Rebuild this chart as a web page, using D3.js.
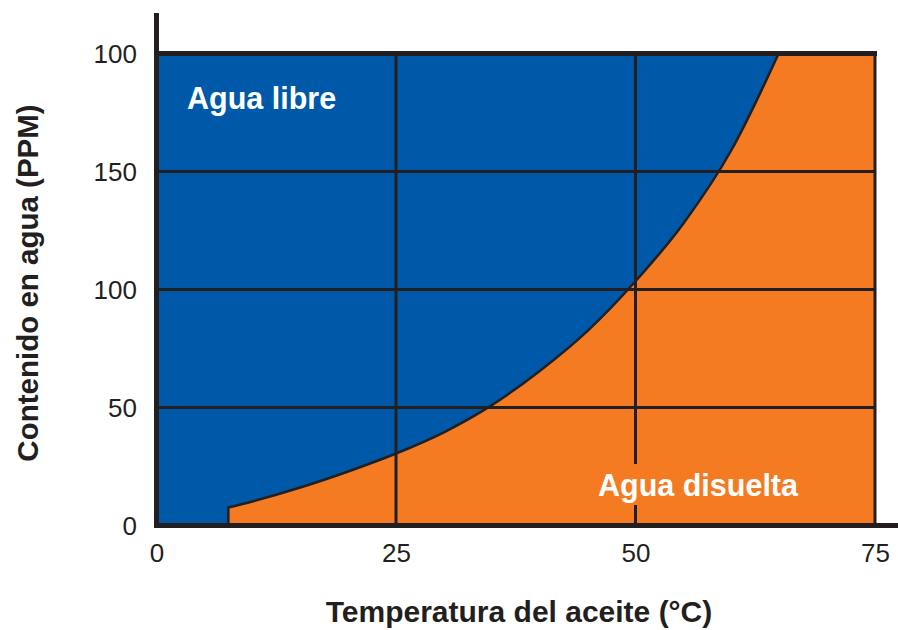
<!DOCTYPE html>
<html>
<head>
<meta charset="utf-8">
<script src="https://d3js.org/d3.v7.min.js"></script>
<style>
  body { margin: 0; background: #fff; }
  text { font-family: "Liberation Sans", Arial, Helvetica, sans-serif; fill: #231f20; }
</style>
</head>
<body>
<svg id="chart" width="898" height="630"></svg>
<script>
// curve: temperature (°C) -> water content (PPM)
var temps = [7.5, 10, 15, 20, 25, 30, 35, 40, 45, 50, 55, 60, 65];
var ppm   = [7.6, 10.2, 16.1, 22.9, 30.5, 39.5, 51, 65.5, 82.5, 103.5, 128, 159, 200.5];

var xTicks = [0, 25, 50, 75];
var yTicks = [0, 50, 100, 150, 200];
var yTickLabels = ["0", "50", "100", "150", "100"];

var xTitle = "Temperatura del aceite (°C)";
var yTitle = "Contenido en agua (PPM)";
var freeLabel = "Agua libre";
var dissolvedLabel = "Agua disuelta";

var blue = "#0059a8", orange = "#f47b21", ink = "#231f20";

var svg = d3.select("#chart");

var x = d3.scaleLinear().domain([0, 75]).range([156.5, 875]);
var y = d3.scaleLinear().domain([0, 200]).range([525.5, 53.5]);

var pts = temps.map(function(t, i) { return [t, ppm[i]]; });

svg.append("clipPath").attr("id", "plotclip")
  .append("rect")
  .attr("x", x(0)).attr("y", y(200))
  .attr("width", x(75) - x(0)).attr("height", y(0) - y(200));

var plot = svg.append("g").attr("clip-path", "url(#plotclip)");

// free water background
plot.append("rect")
  .attr("x", x(0)).attr("y", y(200))
  .attr("width", x(75) - x(0)).attr("height", y(0) - y(200))
  .attr("fill", blue);

// dissolved water region under the curve
var line = d3.line()
  .x(function(d) { return x(d[0]); })
  .y(function(d) { return y(d[1]); })
  .curve(d3.curveMonotoneX);

var curvePath = line(pts);
var first = pts[0];
plot.append("path")
  .attr("d", "M" + x(first[0]) + "," + y(0) + "L" + curvePath.slice(1) +
        "L" + x(75) + "," + y(pts[pts.length - 1][1]) +
        "L" + x(75) + "," + y(0) + "Z")
  .attr("fill", orange);

// grid
plot.selectAll("line.gx").data([25, 50]).enter().append("line")
  .attr("x1", function(d) { return x(d); }).attr("x2", function(d) { return x(d); })
  .attr("y1", y(0)).attr("y2", y(200))
  .attr("stroke", ink).attr("stroke-width", 3);
plot.selectAll("line.gy").data([50, 100, 150]).enter().append("line")
  .attr("x1", x(0)).attr("x2", x(75))
  .attr("y1", function(d) { return y(d); }).attr("y2", function(d) { return y(d); })
  .attr("stroke", ink).attr("stroke-width", 3);

// boundary curve with its vertical start
plot.append("path")
  .attr("d", "M" + x(first[0]) + "," + y(0) + "L" + curvePath.slice(1))
  .attr("fill", "none").attr("stroke", ink).attr("stroke-width", 2.5);

// frame
svg.append("line").attr("x1", x(0)).attr("x2", x(75) + 2).attr("y1", y(200)).attr("y2", y(200))
  .attr("stroke", ink).attr("stroke-width", 5);
svg.append("line").attr("x1", x(75)).attr("x2", x(75)).attr("y1", y(200)).attr("y2", y(0))
  .attr("stroke", ink).attr("stroke-width", 3);
svg.append("line").attr("x1", x(0)).attr("x2", x(0)).attr("y1", 13).attr("y2", y(0) + 2.5)
  .attr("stroke", ink).attr("stroke-width", 5);
svg.append("line").attr("x1", x(0) - 2.5).attr("x2", 898).attr("y1", y(0)).attr("y2", y(0))
  .attr("stroke", ink).attr("stroke-width", 5);

// axes (labels only)
var xAxis = d3.axisBottom(x).tickValues(xTicks).tickSize(0).tickPadding(0)
  .tickFormat(d3.format("d"));
var gx = svg.append("g").call(xAxis);
gx.select(".domain").remove();
gx.selectAll("text").attr("y", 562).attr("dy", null)
  .style("font-size", "26px").style("font-family", "Liberation Sans, Arial, sans-serif")
  .attr("fill", ink);

var yAxis = d3.axisLeft(y).tickValues(yTicks).tickSize(0).tickPadding(0)
  .tickFormat(function(d, i) { return yTickLabels[i]; });
var gy = svg.append("g").attr("transform", "translate(137,0)").call(yAxis);
gy.select(".domain").remove();
gy.selectAll("text").attr("dy", "0.36em")
  .style("font-size", "26px").style("font-family", "Liberation Sans, Arial, sans-serif")
  .attr("fill", ink);

// region labels
svg.append("text").attr("x", 187).attr("y", 109)
  .style("font-size", "30.5px").style("font-weight", "bold").style("fill", "#fff")
  .text(freeLabel);

var dl = svg.append("text").attr("x", 598).attr("y", 496)
  .style("font-size", "30.5px").style("font-weight", "bold").style("fill", "#fff")
  .text(dissolvedLabel);
var bb = dl.node().getBBox();
svg.insert("rect", function() { return dl.node(); })
  .attr("x", bb.x - 4).attr("y", bb.y - 4)
  .attr("width", bb.width + 8).attr("height", bb.height + 6)
  .attr("fill", orange);

// axis titles
svg.append("text").attr("x", 519).attr("y", 622).attr("text-anchor", "middle")
  .style("font-size", "30px").style("font-weight", "bold")
  .text(xTitle);
svg.append("text").attr("transform", "translate(38,283) rotate(-90)").attr("text-anchor", "middle")
  .style("font-size", "29.5px").style("font-weight", "bold")
  .text(yTitle);
</script>
</body>
</html>
